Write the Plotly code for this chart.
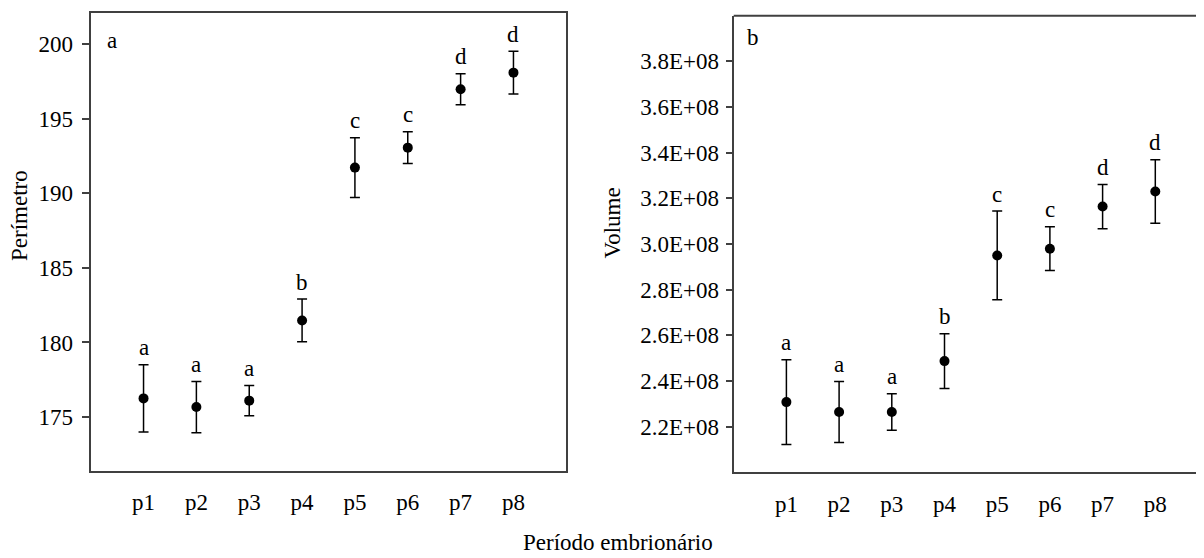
import plotly.graph_objects as go

categories = ["p1", "p2", "p3", "p4", "p5", "p6", "p7", "p8"]
perimetro_mean = [176.25, 175.67, 176.1, 181.48, 191.73, 193.07, 196.98, 198.1]
perimetro_err = [2.26, 1.72, 1.01, 1.43, 2.0, 1.07, 1.04, 1.44]
volume_mean = [2.3075e8, 2.264e8, 2.264e8, 2.487e8, 2.950e8, 2.9795e8, 3.164e8, 3.230e8]
volume_err = [1.86e7, 1.34e7, 0.80e7, 1.20e7, 1.94e7, 0.96e7, 0.97e7, 1.39e7]
letters = ["a", "a", "a", "b", "c", "c", "d", "d"]
perimetro_ticks = [175, 180, 185, 190, 195, 200]
volume_ticks = [2.2e8, 2.4e8, 2.6e8, 2.8e8, 3.0e8, 3.2e8, 3.4e8, 3.6e8, 3.8e8]
volume_ticktext = ["2.2E+08", "2.4E+08", "2.6E+08", "2.8E+08", "3.0E+08",
                   "3.2E+08", "3.4E+08", "3.6E+08", "3.8E+08"]

FONT = "Liberation Serif"
FS = 23
W, H = 1204, 558
OFF = 8  # page body margin offset compensation
xs = list(range(1, len(categories) + 1))


def px(x):
    return (x - OFF) / W


def py(y):
    return 1 - (y - OFF) / H


fig = go.Figure()
for (mean, err, xa, ya) in [(perimetro_mean, perimetro_err, "x", "y"),
                            (volume_mean, volume_err, "x2", "y2")]:
    fig.add_trace(go.Scatter(
        x=xs, y=mean, mode="markers", xaxis=xa, yaxis=ya,
        marker=dict(color="black", size=10),
        error_y=dict(type="data", array=err, visible=True, color="black",
                     thickness=1.5, width=5),
        showlegend=False,
    ))

txt = dict(family=FONT, size=FS, color="black")
ann = []
for i, x in enumerate(xs):
    ann.append(dict(x=x, y=perimetro_mean[i] + perimetro_err[i], xref="x", yref="y",
                    text=letters[i], showarrow=False, xanchor="center", yanchor="middle",
                    yshift=17, font=txt))
    ann.append(dict(x=x, y=volume_mean[i] + volume_err[i], xref="x2", yref="y2",
                    text=letters[i], showarrow=False, xanchor="center", yanchor="middle",
                    yshift=17, font=txt))

ann.append(dict(x=px(111.7), y=py(41), xref="paper", yref="paper", text="a",
                showarrow=False, xanchor="center", yanchor="middle", font=txt))
ann.append(dict(x=px(753.3), y=py(38), xref="paper", yref="paper", text="b",
                showarrow=False, xanchor="center", yanchor="middle", font=txt))
ann.append(dict(x=px(20), y=py(216), xref="paper", yref="paper", text="Perímetro",
                textangle=-90, showarrow=False, xanchor="center", yanchor="middle", font=txt))
ann.append(dict(x=px(611.5), y=py(223), xref="paper", yref="paper", text="Volume",
                textangle=-90, showarrow=False, xanchor="center", yanchor="middle", font=txt))
ann.append(dict(x=px(617.5), y=py(542), xref="paper", yref="paper", text="Período embrionário",
                showarrow=False, xanchor="center", yanchor="middle", borderpad=0, font=txt))

LINE = "#404040"
axis_common = dict(showline=True, linecolor=LINE, linewidth=2, showgrid=False, zeroline=False,
                   tickfont=txt)

fig.update_layout(
    width=W, height=H,
    margin=dict(l=0, r=0, t=0, b=0),
    paper_bgcolor="white", plot_bgcolor="white",
    annotations=ann,
    xaxis=dict(domain=[px(90.7), px(566.3)], range=[0, 9], tickvals=xs, ticktext=categories,
               ticks="", mirror=True, anchor="y", ticklabelstandoff=10, **axis_common),
    yaxis=dict(domain=[py(470.7), py(13)], range=[171.4, 202.1],
               tickvals=perimetro_ticks, ticks="outside", ticklen=7, tickcolor=LINE, tickwidth=1.5,
               mirror=True, anchor="x", ticklabelstandoff=4, **axis_common),
    xaxis2=dict(domain=[px(733.7), 1.0], range=[0, (W - (733.7 - OFF)) / 52.7],
                tickvals=xs, ticktext=categories,
                ticks="", anchor="y2", ticklabelstandoff=10, **axis_common),
    yaxis2=dict(domain=[py(472.3), py(15.7)], range=[2.0e8, 4.0e8],
                tickvals=volume_ticks, ticktext=volume_ticktext, ticks="outside", ticklen=6,
                tickcolor=LINE, tickwidth=1.5, anchor="x2", ticklabelstandoff=2, **axis_common),
    shapes=[dict(type="line", xref="x2 domain", yref="y2 domain", x0=0, x1=1.05, y0=1, y1=1,
                 line=dict(color=LINE, width=2))],
)

fig.write_html("out.html")
